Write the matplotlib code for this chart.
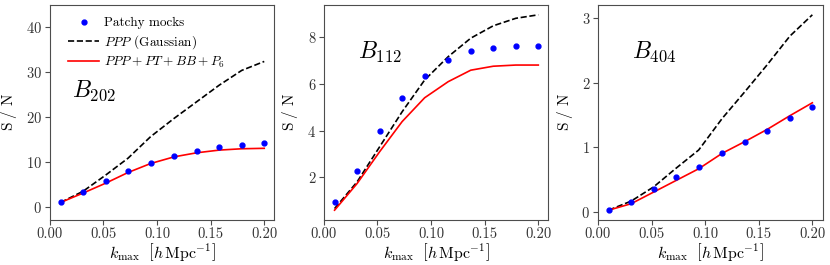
import matplotlib
matplotlib.use('Agg')
import matplotlib.pyplot as plt

plt.rcParams['font.family'] = 'serif'
plt.rcParams['font.serif'] = ['cmr10', 'DejaVu Serif']
plt.rcParams['mathtext.fontset'] = 'cm'
plt.rcParams['axes.formatter.use_mathtext'] = True
plt.rcParams['axes.edgecolor'] = '0.3'
plt.rcParams['xtick.color'] = '0.3'
plt.rcParams['ytick.color'] = '0.3'
plt.rcParams['xtick.labelcolor'] = '0.2'
plt.rcParams['ytick.labelcolor'] = '0.2'

# k_max values
kmax = [0.010, 0.031, 0.052, 0.073, 0.094, 0.116, 0.137, 0.158, 0.179, 0.200]

# B202
mocks_202 = [1.05, 3.2, 5.7, 7.9, 9.8, 11.3, 12.5, 13.4, 13.8, 14.1]
gauss_202 = [0.9, 3.4, 7.0, 10.8, 15.6, 19.7, 23.4, 27.1, 30.4, 32.4]
full_202 = [0.9, 3.0, 5.2, 7.6, 9.6, 11.1, 12.0, 12.6, 12.9, 13.0]

# B112
mocks_112 = [0.93, 2.27, 3.99, 5.4, 6.33, 7.03, 7.43, 7.56, 7.61, 7.61]
gauss_112 = [0.67, 1.81, 3.31, 4.81, 6.17, 7.17, 7.96, 8.49, 8.81, 8.96]
full_112 = [0.6, 1.74, 3.1, 4.39, 5.41, 6.1, 6.59, 6.76, 6.81, 6.81]

# B404
mocks_404 = [0.04, 0.16, 0.35, 0.54, 0.70, 0.92, 1.09, 1.25, 1.45, 1.62]
gauss_404 = [0.03, 0.17, 0.39, 0.68, 0.96, 1.45, 1.86, 2.28, 2.72, 3.05]
full_404 = [0.03, 0.13, 0.31, 0.49, 0.67, 0.91, 1.09, 1.28, 1.49, 1.69]

panels = [
    (r'$B_{202}$', mocks_202, gauss_202, full_202),
    (r'$B_{112}$', mocks_112, gauss_112, full_112),
    (r'$B_{404}$', mocks_404, gauss_404, full_404),
]

fig, axes = plt.subplots(1, 3, figsize=(8.3, 2.65), dpi=100)
fig.subplots_adjust(left=0.06, right=0.991, top=0.981, bottom=0.17, wspace=0.22)

for i, (ax, (name, mocks, gauss, full)) in enumerate(zip(axes, panels)):
    ax.plot(kmax, mocks, 'o', color='blue', ms=3.5, label='Patchy mocks', zorder=3)
    ax.plot(kmax, gauss, '--', color='black', lw=1.2, label=r'$PPP$ (Gaussian)')
    ax.plot(kmax, full, '-', color='red', lw=1.2, label=r'$PPP+PT+BB+P_6$')
    ax.set_xlabel(r'$k_{\rm max}\ \ \left[h\,{\rm Mpc}^{-1}\right]$', fontsize=11.5, labelpad=0)
    ax.set_ylabel(r'${\rm S\ /\ N}$', fontsize=11, labelpad=5)
    ax.set_xticks([0.0, 0.05, 0.10, 0.15, 0.20])
    ax.set_xticklabels(['0.00', '0.05', '0.10', '0.15', '0.20'])
    ax.tick_params(labelsize=10.5, length=3.5, pad=2)
    if i == 0:
        ax.text(0.1, 0.6, name, transform=ax.transAxes, fontsize=17, va='center', ha='left')
    else:
        ax.text(0.15, 0.78, name, transform=ax.transAxes, fontsize=17, va='center', ha='left')

axes[0].set_ylim(-3, 45)
axes[0].set_yticks([0, 10, 20, 30, 40])
axes[1].set_yticks([2, 4, 6, 8])
axes[2].set_yticks([0, 1, 2, 3])
axes[0].legend(loc='upper left', frameon=False, fontsize=9.5, handlelength=2.3,
               handletextpad=0.4, borderaxespad=0.5, labelspacing=0.3,
               bbox_to_anchor=(0.03, 1.0))

fig.savefig('out.png', dpi=100)
